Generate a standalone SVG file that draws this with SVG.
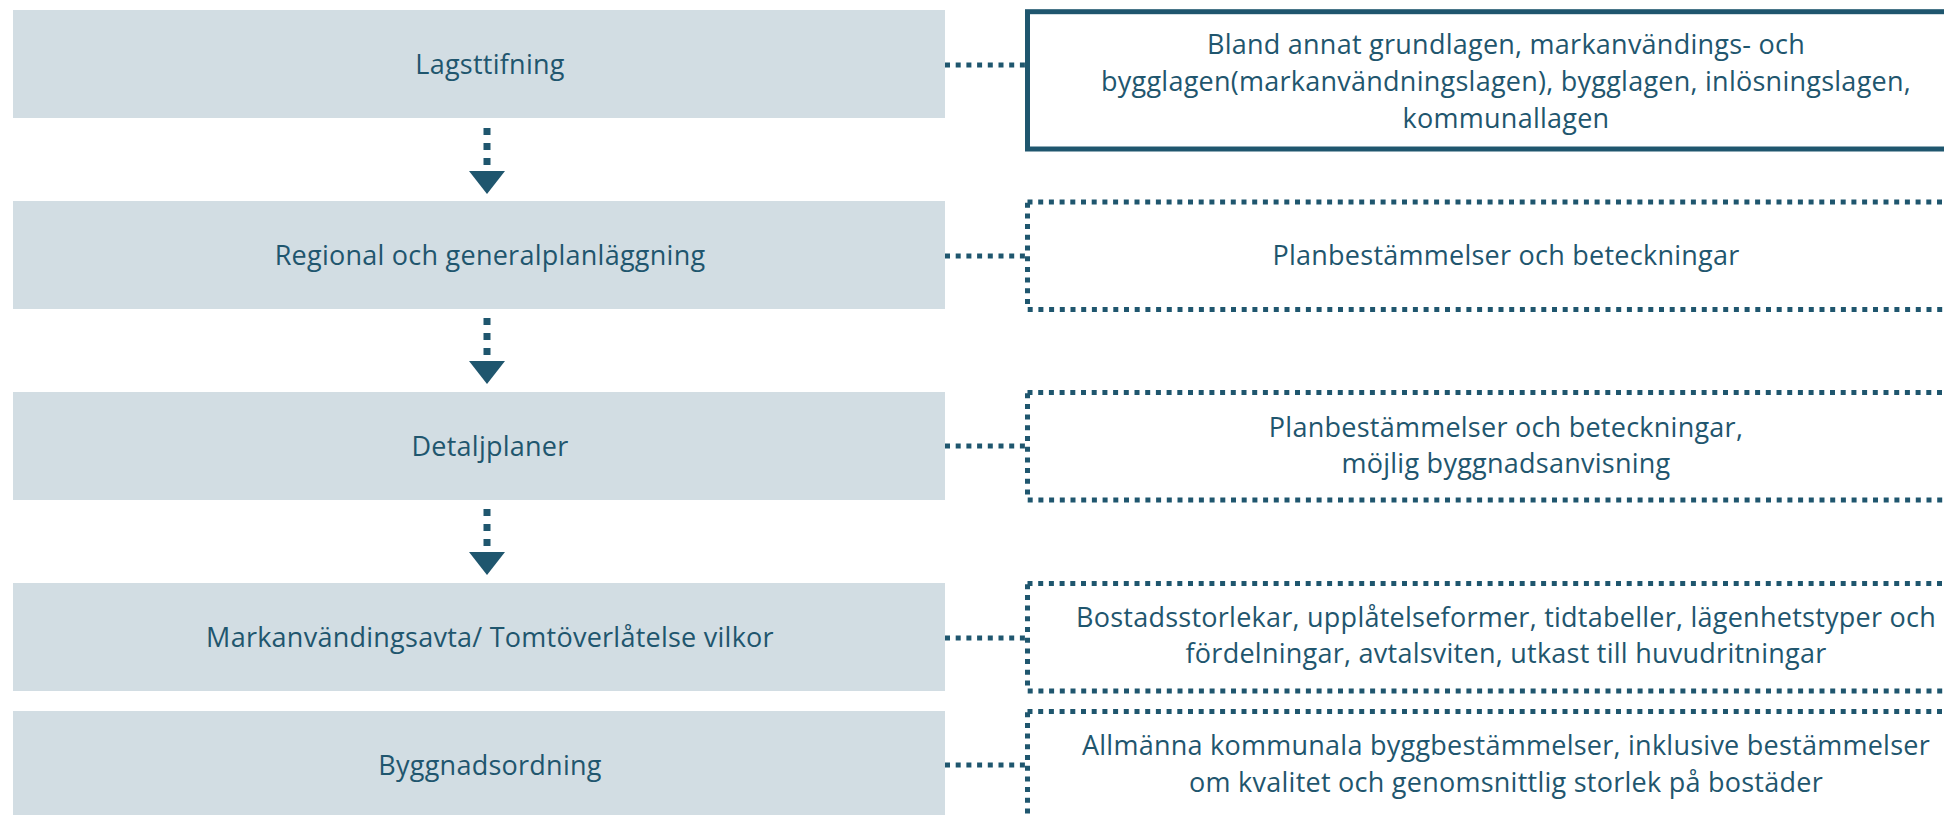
<svg xmlns="http://www.w3.org/2000/svg" width="1944" height="815" viewBox="0 0 1944 815">
<style>
.step{fill:#D2DDE3}
.t{font-family:"Open Sans","Liberation Sans",sans-serif;font-size:27px;letter-spacing:0.25px;fill:#1F566E;text-anchor:middle}
.solid{fill:#FFFFFF;stroke:#1F566E;stroke-width:5}
.dot{fill:#FFFFFF;stroke:#1F566E;stroke-width:5;stroke-dasharray:5 5.7}
.conn{stroke:#1F566E;stroke-width:5;stroke-dasharray:5 5.7;fill:none}
.flow{stroke:#1F566E;stroke-width:7;stroke-dasharray:7 8;fill:none}
.head{fill:#1F566E}
</style>
<rect width="1944" height="815" fill="#FFFFFF"/>
<g id="step1"><rect class="step" x="13" y="10" width="932" height="108"/><text class="t" x="490" y="74">Lagsttifning</text></g>
<g id="step2"><rect class="step" x="13" y="201" width="932" height="108"/><text class="t" x="490" y="265">Regional och generalplanläggning</text></g>
<g id="step3"><rect class="step" x="13" y="392" width="932" height="108"/><text class="t" x="490" y="456">Detaljplaner</text></g>
<g id="step4"><rect class="step" x="13" y="583" width="932" height="108"/><text class="t" x="490" y="647">Markanvändingsavta/ Tomtöverlåtelse vilkor</text></g>
<g id="step5"><rect class="step" x="13" y="711" width="932" height="108"/><text class="t" x="490" y="775">Byggnadsordning</text></g>
<g id="note1"><rect class="solid" x="1027.5" y="11.7" width="960" height="137.3"/>
<text class="t" x="1506" y="54">Bland annat grundlagen, markanvändings- och</text>
<text class="t" x="1506" y="91">bygglagen(markanvändningslagen), bygglagen, inlösningslagen,</text>
<text class="t" x="1506" y="128">kommunallagen</text></g>
<g id="note2"><rect class="dot" x="1027.5" y="202" width="960" height="107.5"/>
<text class="t" x="1506" y="265">Planbestämmelser och beteckningar</text></g>
<g id="note3"><rect class="dot" x="1027.5" y="392.5" width="960" height="107.5"/>
<text class="t" x="1506" y="437">Planbestämmelser och beteckningar,</text>
<text class="t" x="1506" y="473">möjlig byggnadsanvisning</text></g>
<g id="note4"><rect class="dot" x="1027.5" y="583.5" width="960" height="107.5"/>
<text class="t" x="1506" y="627">Bostadsstorlekar, upplåtelseformer, tidtabeller, lägenhetstyper och</text>
<text class="t" x="1506" y="663">fördelningar, avtalsviten, utkast till huvudritningar</text></g>
<g id="note5"><rect class="dot" x="1027.5" y="711.5" width="960" height="107.5"/>
<text class="t" x="1506" y="755">Allmänna kommunala byggbestämmelser, inklusive bestämmelser</text>
<text class="t" x="1506" y="792">om kvalitet och genomsnittlig storlek på bostäder</text></g>
<g id="connectors">
<line class="flow" x1="487" y1="128" x2="487" y2="171"/><polygon class="head" points="469,171 505,171 487,194"/>
<line class="flow" x1="487" y1="318" x2="487" y2="361"/><polygon class="head" points="469,361 505,361 487,384"/>
<line class="flow" x1="487" y1="509" x2="487" y2="552"/><polygon class="head" points="469,552 505,552 487,575"/>
<line class="conn" x1="945" y1="65" x2="1025" y2="65"/>
<line class="conn" x1="945" y1="256" x2="1025" y2="256"/>
<line class="conn" x1="945" y1="446" x2="1025" y2="446"/>
<line class="conn" x1="945" y1="638" x2="1025" y2="638"/>
<line class="conn" x1="945" y1="765" x2="1025" y2="765"/>
</g>
</svg>
